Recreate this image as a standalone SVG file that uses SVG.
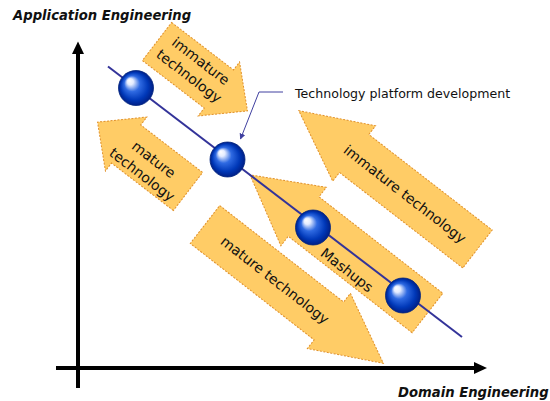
<svg xmlns="http://www.w3.org/2000/svg" width="550" height="401" viewBox="0 0 550 401">
<defs>
<style>
.blk{fill:#FFCC66;stroke:#E0902A;stroke-width:1;stroke-dasharray:2,1.5}
.at{font-family:"DejaVu Sans",Verdana,sans-serif;font-size:14px;fill:#111;text-anchor:middle}
.ax{font-family:"DejaVu Sans",Verdana,sans-serif;font-size:13.2px;font-weight:bold;font-style:italic;fill:#111}
.ball{fill:url(#bg);stroke:#00237E;stroke-width:0.8}
</style>
<radialGradient id="bg" cx="50%" cy="50%" r="50%" fx="30%" fy="28%">
<stop offset="0" stop-color="#FFFFFF"/>
<stop offset="0.18" stop-color="#E4ECFF"/>
<stop offset="0.45" stop-color="#2F6AE2"/>
<stop offset="0.78" stop-color="#0038B8"/>
<stop offset="1" stop-color="#001F86"/>
</radialGradient>
<marker id="ah" viewBox="0 0 10 10" refX="9" refY="5" markerWidth="6" markerHeight="6" orient="auto" markerUnits="userSpaceOnUse">
<path d="M0,0 L10,5 L0,10 z" fill="#4040A0"/>
</marker>
</defs>
<rect width="550" height="401" fill="#FFFFFF"/>

<g id="axes">
<line x1="78" y1="388" x2="78" y2="52" stroke="#000" stroke-width="4"/>
<polygon points="78,41.5 72,54 84,54" fill="#000"/>
<line x1="56" y1="368" x2="476" y2="368" stroke="#000" stroke-width="4"/>
<polygon points="487,368 474,362 474,374" fill="#000"/>
<text class="ax" x="13" y="20">Application Engineering</text>
<text class="ax" x="398" y="397">Domain Engineering</text>
</g>

<g id="arrow-immature-top">
<polygon class="blk" transform="translate(157,41.5) rotate(37.5)" points="0,-24 78,-24 78,-34 114,0 78,34 78,24 0,24"/>
<text class="at" transform="translate(195,68.5) rotate(37.5)"><tspan x="0" y="-4.5">immature</tspan><tspan x="0" y="14.5">technology</tspan></text>
</g>

<g id="arrow-mature-left">
<polygon class="blk" transform="translate(188,191.5) rotate(217.5)" points="0,-24 78,-24 78,-34 114,0 78,34 78,24 0,24"/>
<text class="at" transform="translate(148,167) rotate(37.5)"><tspan x="0" y="-4.5">mature</tspan><tspan x="0" y="14.5">technology</tspan></text>
</g>

<g id="arrow-immature-right">
<polygon class="blk" transform="translate(477.5,249) rotate(217.75)" points="0,-24 156,-24 156,-35 226,0 156,35 156,24 0,24"/>
<text class="at" transform="translate(405,194) rotate(37.75)" y="5">immature technology</text>
</g>

<g id="arrow-mashups">
<polygon class="blk" transform="translate(427.5,313) rotate(217.9)" points="0,-25 157,-25 157,-37 225,0 157,37 157,25 0,25"/>
</g>

<g id="arrow-mature-bottom">
<polygon class="blk" transform="translate(205,224.5) rotate(37.9)" points="0,-24 157,-24 157,-35 226,0 157,35 157,24 0,24"/>
<text class="at" transform="translate(275,280) rotate(37.9)" y="5">mature technology</text>
</g>

<g id="connectors">
<line x1="108" y1="66.5" x2="462" y2="337" stroke="#333399" stroke-width="2"/>
<polyline points="283,92 259,92 240.5,139" fill="none" stroke="#4040A0" stroke-width="1" marker-end="url(#ah)"/>
</g>

<g id="label-mashups">
<text class="at" transform="translate(347,270) rotate(37.9)" y="5">Mashups</text>
</g>

<g id="node-1"><circle class="ball" cx="136" cy="88" r="17.5"/></g>
<g id="node-2"><circle class="ball" cx="227.5" cy="159.5" r="17.5"/></g>
<g id="node-3"><circle class="ball" cx="313" cy="227.5" r="17.5"/></g>
<g id="node-4"><circle class="ball" cx="403" cy="295.5" r="17.5"/></g>

<g id="label-platform">
<text x="295" y="97.5" font-family="'DejaVu Sans',Verdana,sans-serif" font-size="12.6" fill="#111">Technology platform development</text>
</g>
</svg>
